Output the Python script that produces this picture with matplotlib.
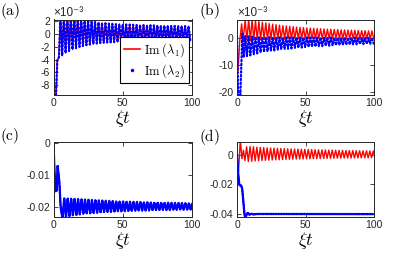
import numpy as np
import matplotlib
matplotlib.use("Agg")
import matplotlib.pyplot as plt
from matplotlib.lines import Line2D
from matplotlib.ticker import FuncFormatter

plt.rcParams['mathtext.fontset'] = 'cm'
plt.rcParams['font.family'] = ['Liberation Sans', 'DejaVu Sans']
plt.rcParams['axes.unicode_minus'] = False

# all values in units of 1e-3
# (a) both eigenvalues lie on top of each other
a_red_head_t = [0, 0.3, 0.8, 1.6, 2.6, 3.8]
a_red_head_v = [0, 3.0, -12, -12, -4.2, -3.8]
a_blue_head_t = [0, 0.6, 1.4, 2.8, 4.0]
a_blue_head_v = [0, -12, -12, -4.0, -3.6]
a_peak = [3.0, 3.0, 2.9, 2.8, 2.7, 2.55, 2.4, 2.25, 2.1, 1.95,
          1.85, 1.75, 1.68, 1.62, 1.57, 1.53, 1.5, 1.47, 1.45, 1.43,
          1.41, 1.39, 1.37, 1.35, 1.33, 1.32, 1.3, 1.29, 1.27, 1.26,
          1.24, 1.23, 1.22, 1.21, 1.2, 1.19, 1.18, 1.16, 1.15]
a_trough = [-3.4, -3.0, -2.7, -2.45, -2.25, -2.05, -1.9, -1.78, -1.68, -1.6,
            -1.52, -1.46, -1.41, -1.37, -1.34, -1.31, -1.29, -1.27, -1.25, -1.23,
            -1.21, -1.19, -1.17, -1.15, -1.14, -1.12, -1.11, -1.1, -1.09, -1.08,
            -1.07, -1.06, -1.05, -1.04, -1.03, -1.02, -1.01, -1.0]

# (b)
b_red_head_t = [0, 0.8, 2.0, 3.4, 4.4]
b_red_head_v = [0, -12, -1, 5.2, -0.8]
b_red_peak = [6.6, 7.0, 6.8, 6.4, 6.1, 5.8, 5.55, 5.3, 5.1, 4.9,
              4.72, 4.56, 4.42, 4.28, 4.15, 4.03, 3.92, 3.82, 3.72, 3.63,
              3.55, 3.47, 3.4, 3.33, 3.26, 3.2, 3.14, 3.08, 3.02, 2.97,
              2.92, 2.87, 2.82, 2.77, 2.72, 2.68, 2.64, 2.6]
b_red_trough = [-1.0, -0.85, -0.75, -0.68, -0.62, -0.57, -0.53, -0.5, -0.47, -0.45,
                -0.43, -0.41, -0.39, -0.37, -0.36, -0.35, -0.34, -0.33, -0.32, -0.31,
                -0.3, -0.29, -0.28, -0.27, -0.26, -0.26, -0.25, -0.25, -0.24, -0.24,
                -0.23, -0.23, -0.22, -0.22, -0.21, -0.21, -0.2, -0.2]
b_blue_head_t = [0, 1.0, 2.4, 3.9, 5.0]
b_blue_head_v = [0, -22, -22, 1.6, -7.2]
b_blue_peak = [0.8, 0.6, 0.5, 0.42, 0.36, 0.32, 0.3, 0.28, 0.26, 0.25,
               0.24, 0.23, 0.22, 0.21, 0.2, 0.2, 0.19, 0.19, 0.18, 0.18,
               0.17, 0.17, 0.16, 0.16, 0.15, 0.15, 0.14, 0.14, 0.13, 0.13,
               0.12, 0.12, 0.12, 0.11, 0.11, 0.1, 0.1, 0.1]
b_blue_trough = [-6.8, -6.4, -6.0, -5.7, -5.4, -5.15, -4.95, -4.75, -4.57, -4.4,
                 -4.25, -4.1, -3.97, -3.85, -3.73, -3.62, -3.52, -3.42, -3.33, -3.24,
                 -3.15, -3.07, -2.99, -2.91, -2.84, -2.77, -2.7, -2.63, -2.57, -2.51,
                 -2.45, -2.39, -2.33, -2.28, -2.23, -2.18, -2.13, -2.08]

# (c) both eigenvalues again coincide
c_head_t = [0, 1.2, 1.8, 2.3, 3.0, 4.2, 5.2]
c_head_v = [0, -15, -13.5, -14.8, -7, -12, -20]
c_trough = [-23.5, -23.0, -22.7, -22.5, -22.3, -22.15, -22.0, -21.9, -21.8, -21.7,
            -21.62, -21.55, -21.48, -21.42, -21.36, -21.3, -21.25, -21.2, -21.16, -21.12,
            -21.08, -21.04, -21.0, -20.97, -20.94, -20.91, -20.88, -20.85, -20.82, -20.8,
            -20.78, -20.76, -20.74, -20.72, -20.7, -20.68, -20.66, -20.64]
c_peak = [-17.2, -17.2, -17.3, -17.35, -17.4, -17.5, -17.55, -17.6, -17.68, -17.75,
          -17.8, -17.86, -17.92, -17.97, -18.02, -18.07, -18.11, -18.15, -18.19, -18.23,
          -18.27, -18.3, -18.33, -18.36, -18.39, -18.42, -18.45, -18.48, -18.5, -18.52,
          -18.54, -18.56, -18.58, -18.6, -18.62, -18.64, -18.66, -18.68]

# (d)
d_red_head_t = [0, 1.1, 2.4, 3.6, 4.7, 5.8]
d_red_head_v = [0, -11.5, 10, -2.7, 3.0, -4.0]
d_red_peak = [5.3, 5.5, 5.3, 5.1, 4.95, 4.8, 4.65, 4.5, 4.4, 4.3,
              4.2, 4.1, 4.0, 3.92, 3.84, 3.76, 3.68, 3.6, 3.53, 3.46,
              3.39, 3.32, 3.26, 3.2, 3.14, 3.08, 3.02, 2.97, 2.92, 2.87,
              2.82, 2.77, 2.72, 2.68, 2.64, 2.6, 2.56, 2.52]
d_red_trough = [-4.5, -4.4, -4.2, -4.05, -3.9, -3.78, -3.66, -3.55, -3.45, -3.36,
                -3.27, -3.19, -3.11, -3.04, -2.97, -2.9, -2.84, -2.78, -2.72, -2.66,
                -2.61, -2.56, -2.51, -2.46, -2.42, -2.38, -2.34, -2.3, -2.26, -2.22,
                -2.19, -2.16, -2.13, -2.1, -2.07, -2.04, -2.01, -1.98]
d_blue_t = [0, 0.8, 1.7, 3.2, 3.8, 5.5, 6.0, 6.8, 7.8, 9.0, 10.5, 12.0, 15.0, 100]
d_blue_v = [0, -12, -20.5, -21, -23, -40.5, -42, -40.8, -39, -40.5, -39.7, -40.2, -39.9, -40.0]

PERIOD = 2.5


def series(head_t, head_v, t0, first, second):
    # head = transient, then alternating extrema every half period
    t = list(head_t)
    v = list(head_v)
    for k, (p, q) in enumerate(zip(first, second)):
        t += [t0 + PERIOD * k, t0 + PERIOD * k + PERIOD / 2]
        v += [p, q]
    return np.array(t), np.array(v)


W, H = 415, 259
fig = plt.figure(figsize=(W / 100, H / 100), dpi=100)


def add_axes(l, t, r, b):
    return fig.add_axes([l / W, 1 - b / H, (r - l) / W, (b - t) / H])


ax_a = add_axes(53.5, 19.5, 192, 95)
ax_b = add_axes(237, 19.5, 374, 94.5)
ax_c = add_axes(53.5, 141.5, 192, 216.5)
ax_d = add_axes(237, 141.5, 374, 216.5)

RED = dict(color=(1, 0, 0), lw=1.0)
BLUE = dict(color=(0, 0, 1), lw=1.6, ls=(0, (0.6, 1.1)), dash_capstyle='round')
BLUE_DENSE = dict(color=(0, 0, 1), lw=1.7, ls=(0, (0.6, 0.5)), dash_capstyle='round')

# (a)
t, v = series(a_red_head_t, a_red_head_v, 5.0, a_peak, a_trough)
ax_a.plot(t, v, **RED)
t, v = series(a_blue_head_t, a_blue_head_v, 5.0, a_peak, a_trough)
ax_a.plot(t, v, **BLUE)
ax_a.set_ylim(-9.5, 2.2)
ax_a.set_yticks([-8, -6, -4, -2, 0, 2])

# (b)
t, v = series(b_red_head_t, b_red_head_v, 6.0, b_red_peak, b_red_trough)
ax_b.plot(t, v, **RED)
t, v = series(b_blue_head_t, b_blue_head_v, 6.0, b_blue_peak, b_blue_trough)
ax_b.plot(t, v, **BLUE)
ax_b.set_ylim(-20.8, 6.8)
ax_b.set_yticks([-20, -10, 0])

# (c)
t, v = series(c_head_t, c_head_v, 6.5, c_trough, c_peak)
ax_c.plot(t, v * 1e-3, **RED)
ax_c.plot(t, v * 1e-3, **BLUE_DENSE)
ax_c.set_ylim(-0.0228, 0.0005)
ax_c.set_yticks([-0.02, -0.01, 0])

# (d)
t, v = series(d_red_head_t, d_red_head_v, 7.0, d_red_peak, d_red_trough)
ax_d.plot(t, v * 1e-3, **RED)
ax_d.plot(d_blue_t, np.array(d_blue_v) * 1e-3, **BLUE_DENSE)
ax_d.set_ylim(-0.0416, 0.0089)
ax_d.set_yticks([-0.04, -0.02, 0])

fmt = FuncFormatter(lambda x, p: f"{x:g}")
for ax in (ax_a, ax_b, ax_c, ax_d):
    ax.set_xlim(0, 100)
    ax.set_xticks([0, 50, 100])
    ax.xaxis.set_major_formatter(fmt)
    ax.yaxis.set_major_formatter(fmt)
    ax.tick_params(direction='in', top=True, right=True, length=3, width=0.6,
                   colors='#262626', labelsize=7.5, pad=2.5)
    for s in ax.spines.values():
        s.set_color('#262626')
        s.set_linewidth(0.7)
    ax.set_xlabel(r'$\xi t$', fontsize=13, labelpad=0)

for ax in (ax_a, ax_b):
    ax.text(0.0, 1.01, '×10⁻³', transform=ax.transAxes, ha='left', va='bottom',
            fontsize=8.5, color='#262626')

handles = [Line2D([], [], color=(1, 0, 0), lw=1.2),
           Line2D([], [], color=(0, 0, 1), ls='none', marker='.', markersize=3)]
leg = ax_a.legend(handles, [r'$\mathrm{Im}\;(\lambda_1)$', r'$\mathrm{Im}\;(\lambda_2)$'],
                  loc='lower right', bbox_to_anchor=(0.975, 0.155), borderaxespad=0,
                  fontsize=9, fancybox=False, framealpha=1, handlelength=1.3,
                  handletextpad=0.3, borderpad=0.3, labelspacing=0.25)
leg.get_frame().set_edgecolor('black')
leg.get_frame().set_linewidth(0.8)

for lab, x, y in [('(a)', 0, 11), ('(b)', 199, 11), ('(c)', 0, 136), ('(d)', 199, 137)]:
    fig.text(x / W, 1 - y / H, r'$\mathrm{' + lab + '}$', fontsize=11, ha='left', va='center')

fig.savefig("out.png", dpi=100)
plt.close(fig)
